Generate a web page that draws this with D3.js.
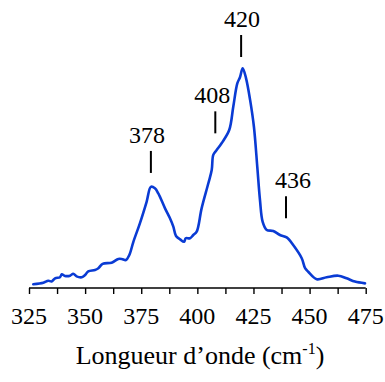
<!DOCTYPE html>
<html>
<head>
<meta charset="utf-8">
<script src="https://cdn.jsdelivr.net/npm/d3@7"></script>
</head>
<body style="margin:0;background:#fff">
<svg id="chart" width="385" height="382" style="display:block" font-family="Liberation Serif"></svg>
<script>
const wavenumber = [326.9,331.4,333.6,335.1,336.6,338.8,339.6,341.0,343.3,344.7,346.2,348.5,350.0,351.4,354.4,355.9,357.8,361.8,364.8,366.3,368.2,369.7,371.5,374.4,377.4,379.3,381.1,382.6,385.6,387.8,389.3,390.5,392.3,394.1,394.8,396.7,398.2,399.7,401.9,404.9,406.4,407.1,408.6,410.8,414.2,416.0,417.8,419.0,420.2,421.7,423.5,425.2,426.7,427.9,429.1,430.9,433.8,436.8,439.8,442.7,446.5,448.0,449.4,453.2,457.6,462.8,466.5,470.2,474.7];
const intensity = [1.7,2.4,3.3,3.0,4.4,4.9,6.2,5.5,5.6,6.5,5.3,4.9,5.9,7.6,8.2,9.0,11.0,11.5,13.2,13.2,12.7,15.0,21.0,29.4,39.2,46.0,45.3,43.0,36.2,31.7,27.9,23.6,22.1,21.0,22.6,22.6,24.1,25.6,36.2,47.6,53.6,60.5,62.7,65.8,71.8,82.4,93.0,95.8,99.9,95.3,85.5,73.3,55.1,40.0,30.1,26.4,25.9,24.1,23.0,19.5,13.5,9.0,7.4,4.0,4.9,5.6,4.4,2.9,2.1];
const xTickLabels = [325,350,375,400,425,450,475];
const xMinorTicks = [325,337.5,350,362.5,375,387.5,400,412.5,425,437.5,450,462.5,475];
const peakLabels = ["378","408","420","436"];
const peakPos = [379.3,408.0,419.5,439.5];
const peakLevel = [52.3,70.3,105.0,31.7];
const xTitle = "Longueur d\u2019onde (cm";
const xTitleSup = "-1";

const FONT = "Liberation Serif";
const svg = d3.select("#chart");
const x = d3.scaleLinear().domain([325,475]).range([29,365.7]);
const y = d3.scaleLinear().domain([0,100]).range([288,68]);

// Axis line + ticks
const ax = svg.append("g").attr("transform","translate(0,288)");
ax.call(d3.axisBottom(x).tickValues(xMinorTicks).tickSize(6).tickFormat(""));
ax.attr("font-family",FONT);
ax.selectAll("text").remove();
ax.select(".domain").attr("stroke","#000").attr("stroke-width",1.4).attr("d","M"+x(325)+",0H"+x(475));
ax.selectAll(".tick line").attr("stroke","#000").attr("stroke-width",1.4);

// Tick labels
xTickLabels.forEach(v=>{
  svg.append("text").attr("x",x(v)).attr("y",324).attr("text-anchor","middle")
    .attr("font-family",FONT).attr("font-size",24).text(String(v));
});

// Curve
const pts = wavenumber.map((w,i)=>[w,intensity[i]]);
svg.append("path").datum(pts)
  .attr("fill","none").attr("stroke","#0a3bd4").attr("stroke-width",2.6)
  .attr("stroke-linejoin","round").attr("stroke-linecap","round")
  .attr("d",d3.line().x(d=>x(d[0])).y(d=>y(d[1])).curve(d3.curveCatmullRom.alpha(0.5)));

// Peak annotations
const labelDx = [-4,-3,1,7];
peakLabels.forEach((t,i)=>{
  const px = x(peakPos[i]), py = y(peakLevel[i]);
  svg.append("line").attr("x1",px).attr("x2",px).attr("y1",py).attr("y2",py-22)
    .attr("stroke","#000").attr("stroke-width",2);
  svg.append("text").attr("x",px+labelDx[i]).attr("y",py-30).attr("text-anchor","middle")
    .attr("font-family",FONT).attr("font-size",24).text(t);
});

// Axis title
const tt = svg.append("text").attr("x",200).attr("y",364).attr("text-anchor","middle")
  .attr("font-family",FONT).attr("font-size",26);
tt.append("tspan").text(xTitle);
tt.append("tspan").attr("font-size",16).attr("dy",-10).text(xTitleSup);
tt.append("tspan").attr("dy",10).text(")");
</script>
</body>
</html>
